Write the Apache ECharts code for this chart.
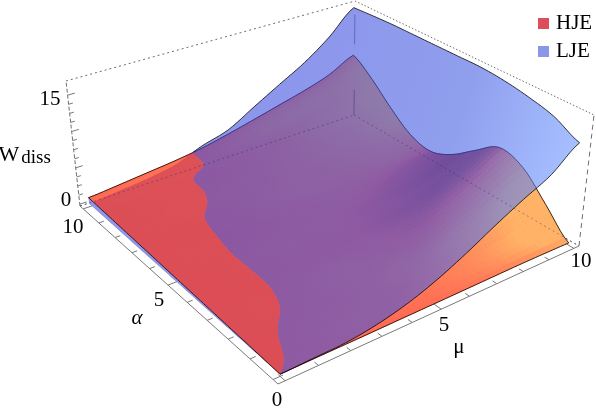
<!DOCTYPE html>
<html>
<head>
<meta charset="utf-8">
<style>
  html, body { margin: 0; padding: 0; background: #fff; }
  #chart { width: 596px; height: 408px; }
</style>
<script src="https://cdn.jsdelivr.net/npm/echarts@6/dist/echarts.min.js"></script>
</head>
<body>
<div id="chart"></div>
<script>
// W, one row per a = 0..10, one column per mu = 0..10
const hjeW = [
  [0, 0.02, 0.02, 0.03, 0.05, 0.06, 0.08, 0.1, 0.12, 0.1, 0.05],
  [0.1, 0.13, 0.15, 0.2, 0.25, 0.35, 0.6, 1.0, 1.7, 2.5, 3.2],
  [0.2, 0.25, 0.3, 0.35, 0.5, 0.8, 1.2, 2.0, 3.3, 4.9, 6.3],
  [0.3, 0.4, 0.45, 0.55, 0.75, 0.95, 1.3, 2.1, 3.6, 5.4, 7.25],
  [0.4, 0.5, 0.6, 0.7, 0.85, 1.0, 1.2, 1.6, 2.5, 3.8, 5.1],
  [0.5, 0.6, 0.8, 0.95, 1.05, 1.15, 1.2, 1.35, 1.6, 2.1, 2.8],
  [0.6, 0.75, 0.95, 1.15, 1.3, 1.4, 1.45, 1.5, 1.5, 1.5, 1.55],
  [0.7, 0.85, 1.1, 1.4, 1.7, 1.9, 2.0, 2.1, 2.2, 2.25, 2.3],
  [0.8, 1.0, 1.3, 1.7, 2.1, 2.4, 2.7, 3.0, 3.4, 3.9, 4.5],
  [0.9, 1.15, 1.5, 1.9, 2.4, 2.9, 3.4, 4.1, 4.9, 5.9, 7.2],
  [1.0, 1.35, 1.75, 2.15, 2.7, 3.5, 4.4, 5.35, 6.3, 7.5, 9.3],
];
const ljeW = [
  [0, 0.1, 0.2, 0.7, 1.6, 2.95, 4.7, 6.7, 8.6, 10.4, 13.2],
  [0, 0.2, 0.55, 1.1, 2.0, 3.2, 5.0, 7.0, 8.9, 11.2, 14.9],
  [0, 0.18, 0.46, 1.0, 2.2, 3.7, 5.6, 7.8, 10.2, 13.0, 15.8],
  [0.02, 0.22, 0.51, 1.0, 2.3, 3.9, 6.0, 8.3, 10.8, 13.6, 16.4],
  [0.05, 0.3, 0.64, 1.0, 2.4, 4.0, 6.3, 8.6, 11.1, 13.9, 16.7],
  [0.08, 0.4, 0.84, 1.2, 2.6, 4.2, 6.5, 8.8, 11.3, 14.0, 16.7],
  [0.1, 0.5, 0.96, 1.4, 2.7, 4.2, 6.5, 8.9, 11.4, 14.1, 16.7],
  [0.12, 0.55, 1.06, 1.6, 2.8, 4.2, 6.5, 8.9, 11.3, 14.0, 16.7],
  [0.15, 0.5, 1.1, 1.77, 2.9, 4.2, 6.4, 8.7, 11.1, 13.8, 16.7],
  [0.18, 0.5, 1.2, 1.87, 2.6, 4.15, 6.3, 8.5, 10.8, 13.5, 16.6],
  [0.2, 0.55, 0.95, 1.6, 3.0, 4.1, 6.2, 8.3, 10.4, 13.1, 16.45],
];
const muTicks = [0, 1, 2, 3, 4, 5, 6, 7, 8, 9, 10];
const aTicks = [0, 1, 2, 3, 4, 5, 6, 7, 8, 9, 10];
const wTicks = [0, 1.25, 2.5, 3.75, 5, 6.25, 7.5, 8.75, 10, 11.25, 12.5, 13.75, 15];
const majorAxisTicks = [0, 5, 10, 15];

// box corners on screen: mu0a0, mu10a0, mu10a10, mu0a10
const floorCorners = [[278, 384], [579, 246], [354, 115], [80, 206]];
const topCorners = [[274, 236], [594, 115], [355, 1], [66, 81]];
const BOX_PAD = 0.02;
const W_ZERO = 0.25;
const W_RANGE = 17.2;
const STEPS = 6; // drawn cells per data cell, as smooth:true would do
const SERIF = '"Liberation Serif", "Times New Roman", serif';

function squareToQuad(c) {
  const [p0, p1, p2, p3] = c;
  const dx1 = p1[0] - p2[0], dx2 = p3[0] - p2[0], sx = p0[0] - p1[0] + p2[0] - p3[0];
  const dy1 = p1[1] - p2[1], dy2 = p3[1] - p2[1], sy = p0[1] - p1[1] + p2[1] - p3[1];
  const den = dx1 * dy2 - dx2 * dy1;
  const g = (sx * dy2 - dx2 * sy) / den;
  const h = (dx1 * sy - sx * dy1) / den;
  const a = p1[0] - p0[0] + g * p1[0], b = p3[0] - p0[0] + h * p3[0];
  const d = p1[1] - p0[1] + g * p1[1], e = p3[1] - p0[1] + h * p3[1];
  return (u, v) => {
    const q = g * u + h * v + 1;
    return [(a * u + b * v + p0[0]) / q, (d * u + e * v + p0[1]) / q];
  };
}
const floorMap = squareToQuad(floorCorners);
const topMap = squareToQuad(topCorners);

function boxPoint(u, v, w) {
  const f = floorMap(u, v), t = topMap(u, v);
  return [f[0] + (t[0] - f[0]) * w, f[1] + (t[1] - f[1]) * w];
}
const toBox = (x) => BOX_PAD + (1 - 2 * BOX_PAD) * x / 10;
const toW = (W) => (W + W_ZERO) / W_RANGE;
const project = (mu, a, W) => boxPoint(toBox(mu), toBox(a), toW(W));

function spline(p0, p1, p2, p3, t) {
  return p1 + 0.5 * t * (p2 - p0 + t * (2 * p0 - 5 * p1 + 4 * p2 - p3 + t * (3 * (p1 - p2) + p3 - p0)));
}
const clampIdx = (i) => Math.max(0, Math.min(10, i));
function refine(grid) {
  const n = 10 * STEPS;
  const fine = [];
  for (let r = 0; r <= n; r++) {
    const rowPos = r / STEPS, r0 = Math.min(9, Math.floor(rowPos)), rt = rowPos - r0;
    const row = [];
    for (let c = 0; c <= n; c++) {
      const colPos = c / STEPS, c0 = Math.min(9, Math.floor(colPos)), ct = colPos - c0;
      const vals = [-1, 0, 1, 2].map((dr) => {
        const g = grid[clampIdx(r0 + dr)];
        return spline(g[clampIdx(c0 - 1)], g[clampIdx(c0)], g[clampIdx(c0 + 1)], g[clampIdx(c0 + 2)], ct);
      });
      row.push(spline(vals[0], vals[1], vals[2], vals[3], rt));
    }
    fine.push(row);
  }
  return fine;
}
const hjeFine = refine(hjeW);
const ljeFine = refine(ljeW);
const N = 10 * STEPS;

function mix(c1, c2, t) {
  return c1.map((v, i) => v + (c2[i] - v) * t);
}
const RED_FLAT = [255, 100, 80];
const RED_DARK = [175, 62, 62];
const RED_LIT = [255, 178, 102];
function hjeColor(r, c) {
  const slope = (hjeFine[r + 1][c] + hjeFine[r + 1][c + 1] - hjeFine[r][c] - hjeFine[r][c + 1]) * 0.5 * STEPS;
  const t = Math.min(1, Math.abs(slope) / 2.4);
  const rgb = slope < 0 ? mix(RED_FLAT, RED_DARK, Math.pow(t, 0.6)) : mix(RED_FLAT, RED_LIT, Math.pow(t, 0.8));
  return 'rgb(' + rgb.map(Math.round).join(',') + ')';
}

// parts of the LJE sheet above (sign 1) or below (sign -1) the HJE sheet, as one path so alpha stays even
function ljePath(api, sign) {
  let d = '';
  for (let r = 0; r < N; r++) {
    for (let c = 0; c < N; c++) {
      const corners = [[r, c], [r, c + 1], [r + 1, c + 1], [r + 1, c]].map(([i, j]) => ({
        a: i / STEPS, mu: j / STEPS, W: ljeFine[i][j], s: (ljeFine[i][j] - hjeFine[i][j]) * sign,
      }));
      const poly = [];
      corners.forEach((p, i) => {
        const q = corners[(i + 1) % 4];
        if (p.s >= 0) poly.push(p);
        if ((p.s >= 0) !== (q.s >= 0)) {
          const t = p.s / (p.s - q.s);
          poly.push({ a: p.a + (q.a - p.a) * t, mu: p.mu + (q.mu - p.mu) * t, W: p.W + (q.W - p.W) * t, s: 0 });
        }
      });
      if (poly.length < 3) continue;
      let pts = poly.map((p) => api.coord(project(p.mu, p.a, p.W)));
      let area = 0;
      pts.forEach((p, i) => {
        const q = pts[(i + 1) % pts.length];
        area += p[0] * q[1] - q[0] * p[1];
      });
      if (area < 0) pts = pts.reverse();
      d += 'M' + pts.map((p) => p[0].toFixed(2) + ' ' + p[1].toFixed(2)).join('L') + 'Z';
    }
  }
  return d;
}

const line = (points, stroke, lineWidth, lineDash) => ({
  type: 'polyline',
  shape: { points },
  style: { stroke, lineWidth: lineWidth || 1, lineDash: lineDash || null, fill: null },
});
const label = (text, x, y, extra) => ({
  type: 'text',
  x, y,
  style: Object.assign({
    text, fill: '#000', fontFamily: SERIF, fontSize: 21, textAlign: 'center', textVerticalAlign: 'middle',
  }, extra),
});

function edgeLine(api, fine, fn, keep) {
  const pts = [];
  for (let i = 0; i <= N; i++) {
    const [r, c] = fn(i);
    if (keep && !keep(r, c)) continue;
    pts.push(api.coord(project(c / STEPS, r / STEPS, fine[r][c])));
  }
  return pts;
}

function renderFrame(params, api) {
  const at = (u, v, w) => api.coord(boxPoint(u, v, w));
  const axisGray = '#7a7a7a';
  const dotted = '#6e6e6e';
  const children = [
    line([at(0, 1, 1), at(1, 1, 1)], dotted, 1, [2, 3]),
    line([at(1, 1, 1), at(1, 0, 1)], dotted, 1, [1.5, 2]),
    line([at(1, 0, 0), at(1, 0, 1)], dotted, 1, [5, 4]),
    line([at(0, 1, 0), at(0, 1, 1)], dotted, 1, [4, 2]),
    line([at(0, 1, 0), at(1, 1, 0)], dotted, 1, [2, 3]),
    line([at(1, 1, 0), at(1, 0, 0)], dotted, 1, [2, 3]),
    line([at(0, 0, 0), at(1, 0, 0)], axisGray, 1),
    line([at(0, 0, 0), at(0, 1, 0)], axisGray, 1),
  ];
  muTicks.forEach((m) => {
    const len = m % 5 === 0 ? 0.028 : 0.016;
    children.push(line([at(toBox(m), 0, 0), at(toBox(m), len, 0)], axisGray, 1));
  });
  aTicks.forEach((a) => {
    const len = a % 5 === 0 ? 0.028 : 0.016;
    children.push(line([at(0, toBox(a), 0), at(len, toBox(a), 0)], axisGray, 1));
  });
  wTicks.forEach((W) => {
    const len = majorAxisTicks.indexOf(W) >= 0 ? 0.022 : 0.013;
    children.push(line([at(0, 1, toW(W)), at(len, 1, toW(W))], axisGray, 1));
  });
  children.push(
    label('15', 50, 99),
    label('0', 66, 200),
    label('10', 73, 227),
    label('5', 159, 300),
    label('0', 277, 400),
    label('5', 444, 325),
    label('10', 581, 261),
    label('\u03bc', 459, 347),
    label('\u03b1', 137, 318, { fontStyle: 'italic' }),
    label('W', 9, 155, { fontSize: 22 }),
    label('diss', 36, 158, { fontSize: 19 })
  );
  return { type: 'group', children };
}

function renderHje(params, api) {
  const children = [];
  for (let r = N - 1; r >= 0; r--) {
    for (let c = N - 1; c >= 0; c--) {
      const color = hjeColor(r, c);
      children.push({
        type: 'polygon',
        shape: {
          points: [[r, c], [r, c + 1], [r + 1, c + 1], [r + 1, c]].map(([i, j]) =>
            api.coord(project(j / STEPS, i / STEPS, hjeFine[i][j]))),
        },
        style: { fill: color, stroke: color, lineWidth: 0.8 },
      });
    }
  }
  children.push({
    type: 'path',
    shape: { pathData: ljePath(api, -1) },
    style: { fill: 'rgba(197,58,88,0.6)' },
  });
  // LJE sliver that sticks out past the front edge of HJE
  const stripTop = edgeLine(api, hjeFine, (i) => [i, 0]);
  const stripLow = edgeLine(api, ljeFine, (i) => [i, 0]);
  children.push({
    type: 'polygon',
    shape: { points: stripTop.concat(stripLow.reverse()) },
    style: { fill: 'rgb(140,150,235)' },
  });
  const edge = 'rgba(0,0,0,0.85)';
  children.push(
    line(edgeLine(api, hjeFine, (i) => [0, i]), edge, 0.9),
    line(edgeLine(api, hjeFine, (i) => [N, i]), edge, 0.9),
    line(edgeLine(api, hjeFine, (i) => [i, 0]), edge, 0.9),
    line(edgeLine(api, hjeFine, (i) => [i, N]), edge, 0.9)
  );
  return { type: 'group', children };
}

function renderLje(params, api) {
  const above = (r, c) => ljeFine[r][c] >= hjeFine[r][c];
  const edge = 'rgba(0,0,0,0.85)';
  const from = api.coord([300, 60]);
  const to = api.coord([570, 150]);
  return {
    type: 'group',
    children: [
      {
        type: 'path',
        shape: { pathData: ljePath(api, 1) },
        style: {
          fill: {
            type: 'linear', global: true,
            x: from[0], y: from[1], x2: to[0], y2: to[1],
            colorStops: [
              { offset: 0, color: 'rgba(53,71,220,0.57)' },
              { offset: 0.6, color: 'rgba(60,85,225,0.57)' },
              { offset: 1, color: 'rgba(97,141,255,0.57)' },
            ],
          },
        },
      },
      line(edgeLine(api, ljeFine, (i) => [N, i], above), edge, 0.9),
      line(edgeLine(api, ljeFine, (i) => [i, N]), edge, 0.9),
      line(edgeLine(api, ljeFine, (i) => [0, i]), edge, 0.9),
    ],
  };
}

function renderSeeThrough(params, api) {
  const at = (u, v, w) => api.coord(boxPoint(u, v, w));
  const tint = 'rgba(45,30,110,0.4)';
  return {
    type: 'group',
    children: [
      line([at(0, 1, 0), at(1, 1, 0)], tint, 1, [2, 3]),
      line([at(1, 1, 0), at(1, 0, 0)], tint, 1, [2, 3]),
      line([at(1, 1, 0), at(1, 1, 0.22)], tint, 1),
      line([at(1, 1, 0.62), at(1, 1, 0.88)], tint, 1),
    ],
  };
}

const customBase = {
  type: 'custom',
  coordinateSystem: 'cartesian2d',
  data: [[0, 0]],
  silent: true,
  clip: false,
  animation: false,
};

const chart = echarts.init(document.getElementById('chart'));
chart.setOption({
  backgroundColor: '#fff',
  animation: false,
  textStyle: { fontFamily: SERIF },
  grid: { left: 0, right: 0, top: 0, bottom: 0 },
  xAxis: { type: 'value', min: 0, max: 596, show: false },
  yAxis: { type: 'value', min: 0, max: 408, inverse: true, show: false },
  legend: {
    data: ['HJE', 'LJE'],
    orient: 'vertical',
    left: 533,
    top: 8,
    itemWidth: 11,
    itemHeight: 11,
    itemGap: 7,
    icon: 'rect',
    selectedMode: false,
    textStyle: { fontFamily: SERIF, fontSize: 21, color: '#000', padding: [0, 0, 0, 2] },
  },
  series: [
    Object.assign({}, customBase, { name: 'frame', renderItem: renderFrame }),
    Object.assign({}, customBase, { name: 'HJE', renderItem: renderHje, itemStyle: { color: 'rgb(222,77,90)' } }),
    Object.assign({}, customBase, { name: 'LJE', renderItem: renderLje, itemStyle: { color: 'rgb(140,150,232)' } }),
    Object.assign({}, customBase, { name: 'seeThrough', renderItem: renderSeeThrough }),
  ],
});
</script>
</body>
</html>
